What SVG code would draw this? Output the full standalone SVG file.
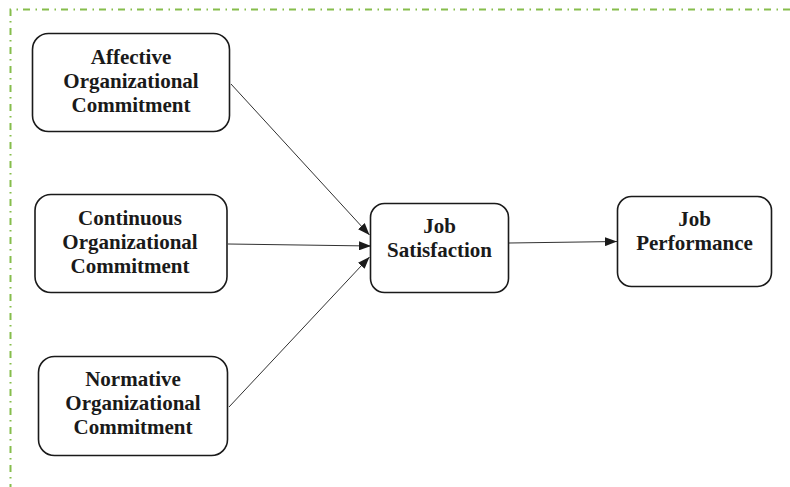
<svg xmlns="http://www.w3.org/2000/svg" width="790" height="487" viewBox="0 0 790 487">
<style>
.box{fill:#fff;stroke:#1a1a1a;stroke-width:1.6}
.t{font-family:"Liberation Serif","Times New Roman",serif;font-weight:bold;font-size:21px;fill:#1a1a1a;text-anchor:middle}
.c{stroke:#1a1a1a;stroke-width:0.9;fill:none;marker-end:url(#ah)}
.frame{stroke:#86bd4c;stroke-width:2;fill:none;stroke-dasharray:7 5 1.5 5.5}
</style>
<defs>
<marker id="ah" markerWidth="12" markerHeight="9" refX="12" refY="4.5" orient="auto" markerUnits="userSpaceOnUse">
<path d="M0,0 L12,4.5 L0,9 Z" fill="#1a1a1a"/>
</marker>
</defs>
<g id="frame">
<path class="frame" d="M790,9.5 L10.5,9.5 L10.5,487"/>
</g>
<g id="connectors">
<line class="c" x1="231" y1="84" x2="369.5" y2="235"/>
<line class="c" x1="228" y1="244" x2="371" y2="246"/>
<line class="c" x1="229" y1="407" x2="369.5" y2="257"/>
<line class="c" x1="509" y1="243" x2="617" y2="241.5"/>
</g>
<g id="affective">
<rect class="box" x="32.5" y="33.5" width="197" height="98" rx="16"/>
<text class="t" x="131" y="64">Affective</text>
<text class="t" x="131" y="88">Organizational</text>
<text class="t" x="131" y="112">Commitment</text>
</g>
<g id="continuous">
<rect class="box" x="35" y="194.5" width="192" height="98" rx="16"/>
<text class="t" x="130" y="225">Continuous</text>
<text class="t" x="130" y="249">Organizational</text>
<text class="t" x="130" y="273">Commitment</text>
</g>
<g id="normative">
<rect class="box" x="38.5" y="356.5" width="189" height="99" rx="16"/>
<text class="t" x="133" y="386">Normative</text>
<text class="t" x="133" y="410">Organizational</text>
<text class="t" x="133" y="434">Commitment</text>
</g>
<g id="job-satisfaction">
<rect class="box" x="370.5" y="203.5" width="138" height="89" rx="14"/>
<text class="t" x="439.5" y="233">Job</text>
<text class="t" x="439.5" y="257">Satisfaction</text>
</g>
<g id="job-performance">
<rect class="box" x="617.5" y="196.5" width="154" height="90" rx="14"/>
<text class="t" x="694.5" y="226">Job</text>
<text class="t" x="694.5" y="250">Performance</text>
</g>
</svg>
